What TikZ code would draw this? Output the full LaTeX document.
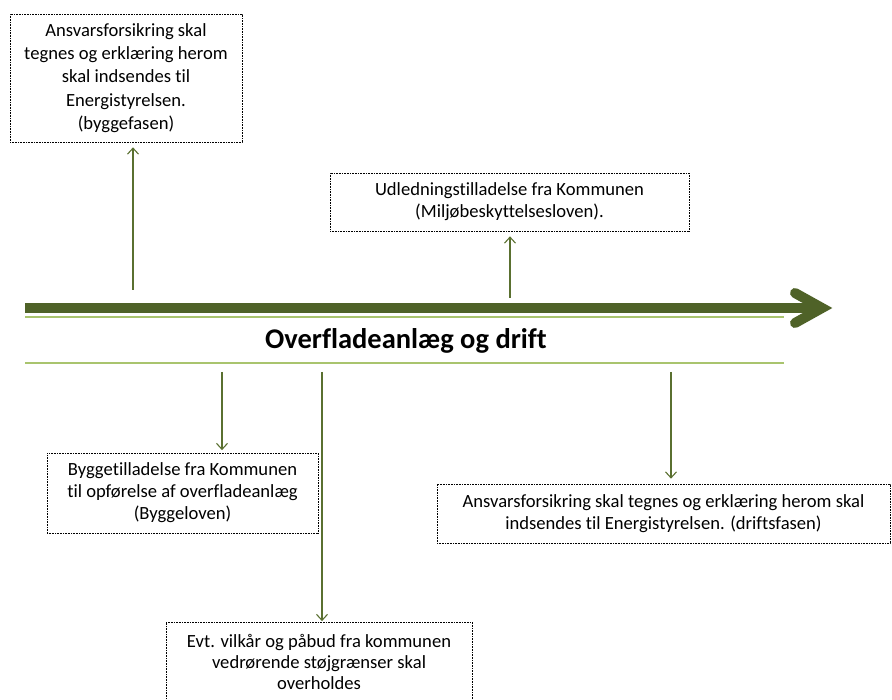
\documentclass[tikz,border=0pt]{standalone}
\usepackage{fontspec}
\setmainfont{Carlito}[Ligatures=NoCommon]
\usetikzlibrary{arrows.meta}
\definecolor{olive}{HTML}{4F6228}
\definecolor{lightolive}{HTML}{A9C46E}
\definecolor{thinolive}{HTML}{5A7030}
\tikzset{
  infobox/.style={draw=black, line width=0.7pt, dash pattern=on 0.8pt off 0.8pt,
    inner sep=0pt, align=center, font=\fontsize{18.6}{22}\selectfont},
  thinarr/.style={draw=thinolive, line width=1.1pt, -{Straight Barb[length=6pt,width=11pt,line width=1.1pt]}},
  lightline/.style={draw=lightolive, line width=2pt},
}
\begin{document}
\begin{tikzpicture}[x=1pt,y=-1pt]
\useasboundingbox (0,0) rectangle (892,700);
% boxes
\node[infobox, minimum width=232pt, minimum height=128pt, font=\fontsize{18.6}{23.2}\selectfont] (tl) at (126,78)
  {Ansvarsforsikring skal\\tegnes og erklæring herom\\skal indsendes til\\Energistyrelsen.\\(byggefasen)};
\node[infobox, minimum width=359pt, minimum height=58pt] (ud) at (509.5,202)
  {Udledningstilladelse fra Kommunen\\(Miljøbeskyttelsesloven).};
\node[infobox, minimum width=271pt, minimum height=80pt] (by) at (182.5,493)
  {Byggetilladelse fra Kommunen\\til opførelse af overfladeanlæg\\(Byggeloven)};
\node[infobox, minimum width=306pt, minimum height=80pt, font=\fontsize{18.6}{21}\selectfont] (ev) at (319,662)
  {Evt. vilkår og påbud fra kommunen\\vedrørende støjgrænser skal\\overholdes};
\node[infobox, minimum width=453pt, minimum height=59pt] (an) at (663.5,513.5)
  {Ansvarsforsikring skal tegnes og erklæring herom skal\\indsendes til Energistyrelsen. (driftsfasen)};
% main timeline arrow
\coordinate (m0) at (25,308);
\coordinate (m1) at (815,308);
\coordinate (ch1) at (795,293);
\coordinate (ch2) at (822,308);
\coordinate (ch3) at (795,323);
\draw[olive, line width=10pt] (m0) -- (m1);
\draw[olive, line width=10pt, line cap=round, line join=miter] (ch1) -- (ch2) -- (ch3);
% light lines and title
\coordinate (l1a) at (25,317.5);
\coordinate (l1b) at (784,317.5);
\coordinate (l2a) at (25,363);
\coordinate (l2b) at (784,363);
\draw[lightline] (l1a) -- (l1b);
\draw[lightline] (l2a) -- (l2b);
\node[font=\bfseries\fontsize{28.5}{32}\selectfont] (title) at (406,341) {Overfladeanlæg og drift};
% connectors
\coordinate (s1) at (133,290);
\coordinate (s2) at (510,298);
\coordinate (s3) at (222,372);
\coordinate (s4) at (322,372);
\coordinate (s5) at (671,372);
\draw[thinarr, shorten >=5pt] (s1) -- (s1 |- tl.south);
\draw[thinarr, shorten >=5pt] (s2) -- (s2 |- ud.south);
\draw[thinarr, shorten >=2.5pt] (s3) -- (s3 |- by.north);
\draw[thinarr, shorten >=0.5pt] (s4) -- (s4 |- ev.north);
\draw[thinarr, shorten >=5pt] (s5) -- (s5 |- an.north);
\end{tikzpicture}
\end{document}
